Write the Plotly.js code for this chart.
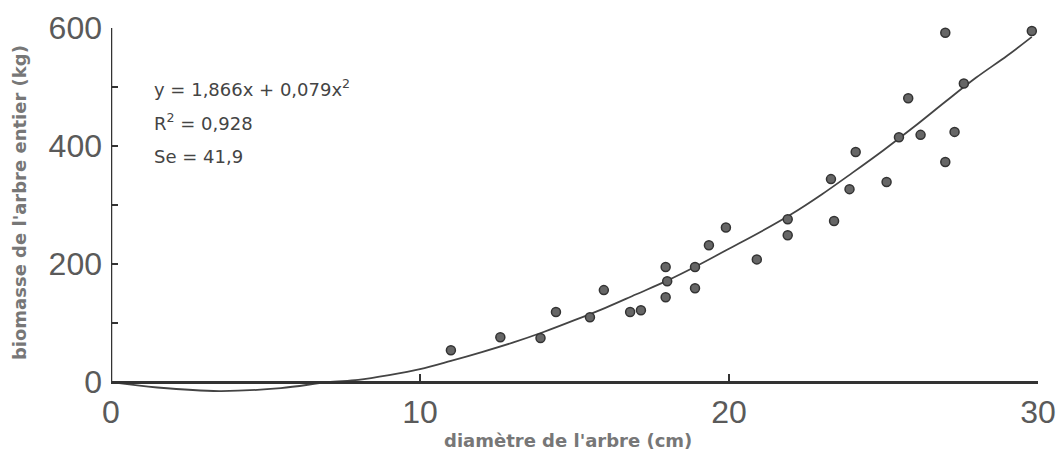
<!DOCTYPE html>
<html>
<head>
<meta charset="utf-8">
<script src="https://cdn.plot.ly/plotly-3.0.1.min.js"></script>
<style>html,body{margin:0;padding:0;background:#fff;}#chart{width:1064px;height:461px;}</style>
</head>
<body>
<div id="chart"></div>
<script>
// Observed points: tree diameter (cm) and whole-tree biomass (kg)
const diametre = [11.0, 12.6, 13.9, 14.4, 15.5, 15.95, 16.8, 17.15, 17.95, 18.0, 17.95, 18.9, 18.9, 19.35, 19.9, 20.9,
                  21.9, 21.9, 23.3, 23.4, 23.9, 24.1, 25.1, 25.5, 25.8, 26.2, 27.0, 27.0, 27.3, 27.6, 29.8];
const biomasse = [54, 76, 75, 119, 110, 156, 119, 122, 144, 171, 195, 159, 195, 232, 262, 208,
                  249, 276, 344, 273, 327, 390, 339, 415, 481, 419, 373, 592, 424, 506, 595];
// Fitted curve
const courbeX = [0, 1.5, 3.5, 5.5, 7, 8, 9, 10, 11, 12, 13, 14, 15, 16, 17, 18, 19, 20, 21, 22, 23, 24, 25, 26, 27, 28, 29, 29.8];
const courbeY = [0, -9, -15, -10, 0, 4, 12, 22, 36, 51, 67, 85, 105, 126, 149, 172, 198, 226, 254, 284, 318, 355, 393, 433, 475, 516, 553, 585];
const xTicks = [0, 10, 20, 30];
const yTicks = [0, 200, 400, 600];
const eqLines = ['y = 1,866x + 0,079x<sup>2</sup>', 'R<sup>2</sup> = 0,928', 'Se = 41,9'];
const xTitle = "diamètre de l'arbre (cm)";
const yTitle = "biomasse de l'arbre entier (kg)";

const tickFont = {family: 'Liberation Sans, Arial, sans-serif', size: 32, color: '#5a5a5a'};
const titleFont = {family: 'DejaVu Sans, sans-serif', size: 18, color: '#777', weight: 'bold'};

const traces = [
  {x: courbeX, y: courbeY, mode: 'lines', type: 'scatter', line: {color: '#444', width: 1.8, shape: 'spline', smoothing: 1}, hoverinfo: 'skip'},
  {x: diametre, y: biomasse, mode: 'markers', type: 'scatter', cliponaxis: false,
   marker: {size: 9, color: '#666', line: {color: '#333', width: 1.5}}}
];

const eqY = [0.836, 0.743, 0.648];
const annotations = eqLines.map((t, i) => ({
  text: t, xref: 'paper', yref: 'paper', x: 0.044, y: eqY[i], xanchor: 'left', yanchor: 'middle',
  showarrow: false, font: {family: 'DejaVu Sans, sans-serif', size: 18, color: '#444'}
}));
annotations.push({text: xTitle, xref: 'paper', yref: 'paper', x: 0.493, y: -0.126, xanchor: 'center', yanchor: 'middle', showarrow: false, font: titleFont});
annotations.push({text: yTitle, xref: 'paper', yref: 'paper', x: -0.098, y: 0.522, xanchor: 'center', yanchor: 'middle', textangle: -90, showarrow: false, font: titleFont});

const layout = {
  width: 1064, height: 461,
  margin: {l: 111, r: 26, t: 28, b: 67},
  paper_bgcolor: '#fff', plot_bgcolor: '#fff',
  showlegend: false,
  xaxis: {
    range: [0, 30], tickvals: xTicks, ticktext: xTicks.map(String),
    anchor: 'free', position: 20 / 620,
    showgrid: false, zeroline: false, showline: true, linecolor: '#333', linewidth: 2.5,
    ticks: 'inside', ticklen: 7, tickwidth: 2, tickcolor: '#333',
    tickfont: tickFont, ticklabelstandoff: 1
  },
  yaxis: {
    range: [-20, 600], tickvals: yTicks, ticktext: yTicks.map(String),
    showgrid: false, zeroline: false, showline: false,
    ticks: 'inside', ticklen: 7, tickwidth: 2, tickcolor: '#333',
    minor: {dtick: 100, tick0: 0, ticks: 'inside', ticklen: 7, tickwidth: 2, tickcolor: '#333', showgrid: false},
    tickfont: tickFont, ticklabelstandoff: 8
  },
  shapes: [
    {type: 'line', xref: 'x', yref: 'y', x0: 0, x1: 0, y0: 0, y1: 600, line: {color: '#333', width: 2.5}}
  ],
  annotations: annotations
};

Plotly.newPlot('chart', traces, layout, {displayModeBar: false, staticPlot: true});
</script>
</body>
</html>
